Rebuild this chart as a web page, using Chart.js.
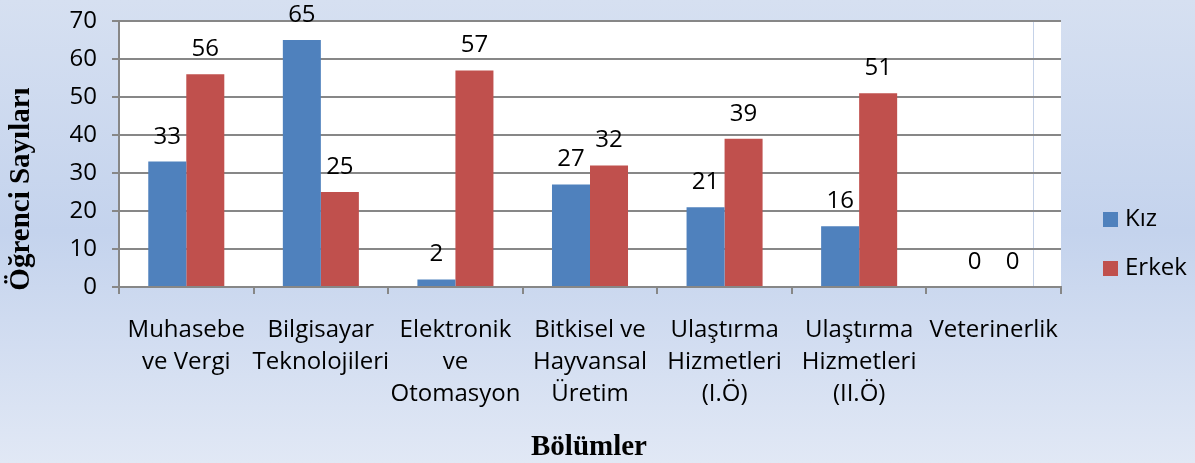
<!DOCTYPE html>
<html>
<head>
<meta charset="utf-8">
<script src="https://cdn.jsdelivr.net/npm/chart.js@4/dist/chart.umd.min.js"></script>
<style>
html,body{margin:0;padding:0;}
body{width:1195px;height:463px;background:linear-gradient(to bottom,#d6e0f1 0%,#c4d3ed 50%,#e1e8f5 100%);overflow:hidden;}
#wrap{position:relative;width:1195px;height:463px;}
</style>
</head>
<body>
<div id="wrap"><canvas id="c" width="1195" height="463"></canvas></div>
<script>
const categories = [
  ["Muhasebe","ve Vergi"],
  ["Bilgisayar","Teknolojileri"],
  ["Elektronik","ve","Otomasyon"],
  ["Bitkisel ve","Hayvansal","Üretim"],
  ["Ulaştırma","Hizmetleri","(I.Ö)"],
  ["Ulaştırma","Hizmetleri","(II.Ö)"],
  ["Veterinerlik"]
];
const kiz = [33, 65, 2, 27, 21, 16, 0];
const erkek = [56, 25, 57, 32, 39, 51, 0];
const yTitle = "Öğrenci Sayıları";
const xTitle = "Bölümler";
const seriesNames = ["Kız", "Erkek"];
const colors = ["#4f81bd", "#c0504d"];

const FONT = "'Open Sans'";
const TICK_SIZE = 24;
const GRID = '#878787';

const decor = {
  id: 'decor',
  beforeDraw(chart) {
    const {ctx, chartArea: a} = chart;
    ctx.save();
    ctx.fillStyle = '#ffffff';
    ctx.fillRect(a.left, a.top, a.right - a.left, a.bottom - a.top);
    ctx.strokeStyle = '#c5d2e8';
    ctx.lineWidth = 1;
    ctx.beginPath();
    ctx.moveTo(1033.5, a.top);
    ctx.lineTo(1033.5, a.bottom);
    ctx.stroke();
    ctx.restore();
  },
  afterDraw(chart) {
    const {ctx} = chart;
    ctx.save();
    ctx.fillStyle = '#000';
    ctx.font = `${TICK_SIZE}px ${FONT}`;
    ctx.textAlign = 'center';
    ctx.textBaseline = 'alphabetic';
    chart.data.datasets.forEach((ds, i) => {
      const meta = chart.getDatasetMeta(i);
      meta.data.forEach((bar, j) => {
        ctx.fillText(String(ds.data[j]), bar.x, bar.y - 18);
      });
    });
    ctx.font = `bold 29px "Liberation Serif"`;
    ctx.textBaseline = 'middle';
    ctx.fillText(xTitle, 589, 448);
    ctx.save();
    ctx.translate(22, 189);
    ctx.rotate(-Math.PI / 2);
    ctx.fillText(yTitle, 0, 0);
    ctx.restore();
    ctx.font = `${TICK_SIZE}px ${FONT}`;
    ctx.textAlign = 'left';
    const ys = [219.5, 268.5];
    chart.data.datasets.forEach((ds, i) => {
      ctx.fillStyle = ds.backgroundColor;
      ctx.fillRect(1103, ys[i] - 7.5, 15, 15);
      ctx.fillStyle = '#000';
      ctx.fillText(ds.label, 1125, ys[i]);
    });
    ctx.restore();
  }
};

new Chart(document.getElementById('c'), {
  type: 'bar',
  data: {
    labels: categories,
    datasets: [
      {label: seriesNames[0], data: kiz, backgroundColor: colors[0], borderWidth: 0},
      {label: seriesNames[1], data: erkek, backgroundColor: colors[1], borderWidth: 0}
    ]
  },
  options: {
    responsive: false,
    animation: false,
    layout: {padding: {top: 21, right: 134, left: 0, bottom: 0}},
    plugins: {legend: {display: false}, tooltip: {enabled: false}},
    datasets: {bar: {categoryPercentage: 0.565, barPercentage: 1.0}},
    scales: {
      x: {
        afterFit(s) { s.height = 176; s.paddingLeft = 0; s.paddingRight = 0; },
        grid: {drawOnChartArea: false, drawTicks: true, tickLength: 7, color: GRID, lineWidth: 2},
        border: {color: GRID, width: 2},
        ticks: {color: '#000', font: {family: FONT, size: TICK_SIZE, lineHeight: 1.33}, padding: 20, maxRotation: 0, autoSkip: false}
      },
      y: {
        min: 0, max: 70,
        afterFit(s) { s.width = 119; s.paddingTop = 0; s.paddingBottom = 0; },
        grid: {color: GRID, lineWidth: 2, tickLength: 7},
        border: {color: GRID, width: 2},
        ticks: {stepSize: 10, color: '#000', font: {family: FONT, size: TICK_SIZE}, padding: 15}
      }
    }
  },
  plugins: [decor]
});
</script>
</body>
</html>
